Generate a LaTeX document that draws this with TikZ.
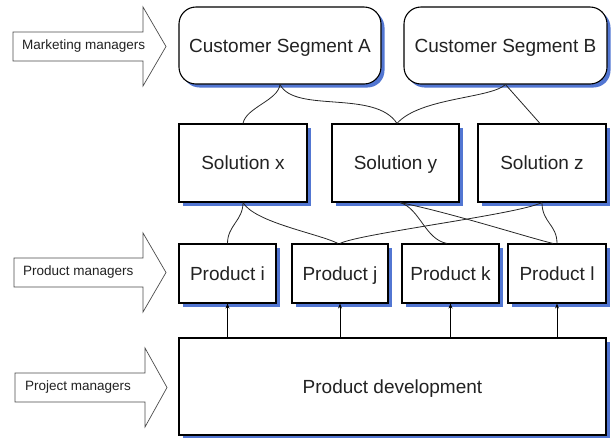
\documentclass[tikz,border=0pt]{standalone}
\usepackage{fontspec}
\setmainfont{Liberation Sans}
\usetikzlibrary{shadows,arrows.meta}
\definecolor{shadowblue}{RGB}{82,118,210}
\definecolor{txt}{RGB}{34,34,34}
\begin{document}
\begin{tikzpicture}[x=1pt,y=-1pt,
  box/.style={draw=black, line width=1.1pt, fill=white, inner sep=0pt, text=txt,
    font=\fontsize{19}{21}\selectfont, text height=13.5pt, text depth=0pt,
    drop shadow={shadow xshift=3.5pt, shadow yshift=-3.5pt, fill=shadowblue, opacity=1}},
  seg/.style={box, rounded corners=17pt},
  link/.style={line width=0.8pt, draw=black!85},
  uparrow/.style={line width=0.8pt, -{Stealth[length=5pt,width=4pt]}},
  bigarrow/.style={draw=black!70, line width=0.7pt, fill=white},
  mgr/.style={font=\fontsize{13.5}{15}\selectfont, text=txt, inner sep=0pt, anchor=west}
]
\useasboundingbox (0,0) rectangle (611,437);

% big arrows
\draw[bigarrow] (13,32) -- (143,32) -- (143,7) -- (166,46.5) -- (143,86) -- (143,61) -- (13,61) -- cycle;
\node[mgr] (mm) at (22,46.5) {Marketing managers};
\draw[bigarrow] (14,258) -- (143,258) -- (143,233) -- (166,272.5) -- (143,312) -- (143,287) -- (14,287) -- cycle;
\node[mgr] (pm) at (23,272.5) {Product managers};
\draw[bigarrow] (15,373) -- (145,373) -- (145,348) -- (167,387.5) -- (145,427) -- (145,402) -- (15,402) -- cycle;
\node[mgr] (prm) at (25,387.5) {Project managers};

% customer segments
\node[seg, minimum width=202pt, minimum height=77pt] (csa) at (280,45.5) {Customer Segment A};
\node[seg, minimum width=203pt, minimum height=77pt] (csb) at (505.5,45.5) {Customer Segment B};

% solutions
\node[box, minimum width=128pt, minimum height=78pt] (sx) at (243,163) {Solution x};
\node[box, minimum width=127pt, minimum height=78pt] (sy) at (395.5,163) {Solution y};
\node[box, minimum width=128pt, minimum height=78pt] (sz) at (542,163) {Solution z};

% products
\node[box, minimum width=97pt, minimum height=59pt] (pi) at (227.5,273.5) {Product i};
\node[box, minimum width=96pt, minimum height=59pt] (pj) at (340,273.5) {Product j};
\node[box, minimum width=97pt, minimum height=59pt] (pk) at (450.5,273.5) {Product k};
\node[box, minimum width=98pt, minimum height=59pt] (pl) at (557,273.5) {Product l};

% product development
\node[box, minimum width=427pt, minimum height=97pt] (pd) at (392.5,386.5) {Product development};

% segment -> solution links
\draw[link] (csa.south) .. controls +(-2,16) and +(3,-16) .. (sx.north);
\draw[link] (csa.south) .. controls +(15,29) and +(-22,-34) .. ([xshift=1.5pt]sy.north);
\draw[link] (csb.south) .. controls +(-15,14) and +(23,-26) .. ([xshift=1.5pt]sy.north);
\draw[link] (csb.south) -- ([xshift=-2pt]sz.north);

% solution -> product links
\draw[link] (sx.south) .. controls +(0,18) and +(0,-18) .. (pi.north);
\draw[link] (sx.south) .. controls +(12,20) and +(-20,-10) .. ([xshift=-2pt]pj.north);
\draw[link] ([xshift=4.5pt]sy.south) .. controls +(20,6) and +(-22,-4) .. ([xshift=-3.5pt]pk.north);
\draw[link] ([xshift=4.5pt]sy.south) .. controls +(50,10) and +(-25,-6) .. ([xshift=-4pt]pl.north);
\draw[link] (sz.south) .. controls +(-25,12) and +(20,-10) .. (pj.north);
\draw[link] (sz.south) .. controls +(0,20) and +(0,-19) .. (pl.north);

% development -> products
\draw[uparrow] (pd.north -| pi.south) -- (pi.south);
\draw[uparrow] (pd.north -| pj.south) -- (pj.south);
\draw[uparrow] (pd.north -| pk.south) -- (pk.south);
\draw[uparrow] (pd.north -| pl.south) -- (pl.south);
\end{tikzpicture}
\end{document}
